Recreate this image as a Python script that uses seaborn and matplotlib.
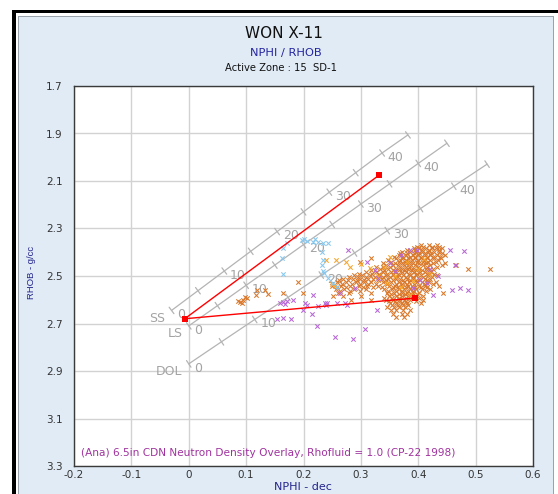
import matplotlib
matplotlib.use("Agg")
import numpy as np
import pandas as pd
import matplotlib.pyplot as plt
import seaborn as sns
from matplotlib.patches import Rectangle

# ---------------- data ----------------
x_ticks = [-0.2, -0.1, 0.0, 0.1, 0.2, 0.3, 0.4, 0.5, 0.6]
x_tick_labels = ["-0.2", "-0.1", "0", "0.1", "0.2", "0.3", "0.4", "0.5", "0.6"]
y_ticks = [1.7, 1.9, 2.1, 2.3, 2.5, 2.7, 2.9, 3.1, 3.3]
y_tick_labels = ["1.7", "1.9", "2.1", "2.3", "2.5", "2.7", "2.9", "3.1", "3.3"]

porosity_pu = [0, 5, 10, 15, 20, 25, 30, 35, 40, 45]
ss_nphi = [-0.030, 0.016, 0.062, 0.108, 0.154, 0.200, 0.245, 0.291, 0.337, 0.382]
ss_rhob = [2.645, 2.562, 2.479, 2.396, 2.313, 2.230, 2.147, 2.065, 1.982, 1.906]
ls_nphi = [0.000, 0.050, 0.100, 0.150, 0.200, 0.250, 0.300, 0.350, 0.400, 0.450]
ls_rhob = [2.710, 2.625, 2.539, 2.454, 2.368, 2.283, 2.197, 2.112, 2.026, 1.941]
dol_nphi = [0.000, 0.057, 0.115, 0.173, 0.231, 0.289, 0.346, 0.404, 0.462, 0.520]
dol_rhob = [2.870, 2.777, 2.683, 2.590, 2.496, 2.403, 2.309, 2.216, 2.122, 2.029]
labelled_pu = [0, 10, 20, 30, 40]

# triangle picks (matrix / fluid / shale points)
red_nphi = [0.332, -0.007, 0.394]
red_rhob = [2.075, 2.680, 2.593]

# main dark-orange cloud, listed by density row
orange_rows = [2.368, 2.383, 2.397, 2.411, 2.426, 2.440, 2.455, 2.469, 2.483,
               2.497, 2.511, 2.526, 2.541, 2.555, 2.570, 2.585, 2.600, 2.614,
               2.629, 2.645, 2.660, 2.672]
orange_row_nphi = [
    [0.405, 0.418, 0.433],
    [0.392, 0.401, 0.414, 0.424, 0.431, 0.441],
    [0.372, 0.386, 0.396, 0.407, 0.417, 0.428, 0.437],
    [0.366, 0.379, 0.391, 0.399, 0.411, 0.421, 0.432, 0.446],
    [0.318, 0.361, 0.373, 0.383, 0.394, 0.404, 0.416, 0.427, 0.439],
    [0.298, 0.352, 0.366, 0.377, 0.386, 0.397, 0.408, 0.417, 0.431],
    [0.343, 0.356, 0.364, 0.376, 0.388, 0.394, 0.409, 0.421, 0.442, 0.466],
    [0.333, 0.348, 0.361, 0.371, 0.382, 0.391, 0.401, 0.413, 0.426, 0.487, 0.525],
    [0.309, 0.326, 0.338, 0.352, 0.359, 0.372, 0.379, 0.392, 0.403, 0.411, 0.423],
    [0.288, 0.302, 0.316, 0.331, 0.343, 0.356, 0.366, 0.374, 0.386, 0.396, 0.404, 0.417, 0.432],
    [0.268, 0.287, 0.299, 0.312, 0.322, 0.336, 0.348, 0.361, 0.369, 0.381, 0.391, 0.402, 0.412, 0.421],
    [0.259, 0.274, 0.292, 0.306, 0.318, 0.339, 0.353, 0.366, 0.376, 0.384, 0.397, 0.406, 0.418, 0.431],
    [0.249, 0.266, 0.281, 0.296, 0.311, 0.329, 0.349, 0.359, 0.371, 0.382, 0.389, 0.401, 0.412, 0.436],
    [0.256, 0.271, 0.288, 0.309, 0.341, 0.354, 0.367, 0.376, 0.386, 0.396, 0.407, 0.421],
    [0.261, 0.279, 0.318, 0.346, 0.358, 0.371, 0.381, 0.391, 0.402, 0.443],
    [0.252, 0.268, 0.300, 0.349, 0.361, 0.372, 0.383, 0.394, 0.409],
    [0.283, 0.317, 0.344, 0.356, 0.366, 0.376, 0.386, 0.408],
    [0.351, 0.362, 0.371, 0.381, 0.404],
    [0.346, 0.357, 0.366, 0.377],
    [0.352, 0.361, 0.374, 0.386],
    [0.356, 0.371, 0.381],
    [0.362, 0.376],
]
# in-between rows of the same cloud (denser core)
orange_rows_b = [2.376, 2.390, 2.404, 2.418, 2.433, 2.447, 2.462, 2.476, 2.490,
                 2.504, 2.518, 2.533, 2.548, 2.562, 2.577, 2.592, 2.607, 2.622]
orange_row_nphi_b = [
    [0.398, 0.409, 0.424, 0.437],
    [0.381, 0.395, 0.407, 0.419, 0.436],
    [0.368, 0.381, 0.392, 0.402, 0.412, 0.423, 0.441],
    [0.357, 0.372, 0.385, 0.395, 0.405, 0.415, 0.426, 0.438],
    [0.347, 0.368, 0.379, 0.389, 0.399, 0.410, 0.421, 0.434],
    [0.338, 0.359, 0.371, 0.381, 0.391, 0.402, 0.413, 0.425, 0.447],
    [0.326, 0.338, 0.351, 0.368, 0.379, 0.384, 0.399, 0.415, 0.432],
    [0.318, 0.341, 0.356, 0.366, 0.377, 0.387, 0.396, 0.407, 0.419],
    [0.296, 0.319, 0.332, 0.345, 0.364, 0.384, 0.398, 0.416, 0.427],
    [0.279, 0.295, 0.309, 0.324, 0.338, 0.351, 0.362, 0.379, 0.391, 0.409, 0.424],
    [0.262, 0.278, 0.293, 0.306, 0.329, 0.343, 0.356, 0.373, 0.386, 0.396, 0.416],
    [0.267, 0.284, 0.299, 0.313, 0.326, 0.346, 0.361, 0.371, 0.381, 0.392, 0.411, 0.425],
    [0.258, 0.274, 0.303, 0.321, 0.336, 0.356, 0.364, 0.379, 0.394, 0.404, 0.416],
    [0.264, 0.281, 0.298, 0.348, 0.361, 0.372, 0.382, 0.391, 0.413],
    [0.353, 0.366, 0.377, 0.387, 0.398],
    [0.341, 0.354, 0.367, 0.378, 0.389, 0.401],
    [0.349, 0.359, 0.369, 0.379, 0.396],
    [0.354, 0.364, 0.373, 0.383],
]
# scattered dark-orange points on the low-porosity side
orange_left_nphi = [0.190, 0.164, 0.199, 0.138, 0.133, 0.117, 0.101, 0.089, 0.092, 0.085, 0.095, 0.119, 0.098]
orange_left_rhob = [2.525, 2.570, 2.570, 2.575, 2.560, 2.580, 2.593, 2.610, 2.614, 2.605, 2.603, 2.560, 2.590]

light_orange_nphi = [0.239, 0.257, 0.274, 0.250, 0.300, 0.316, 0.281, 0.340, 0.360, 0.380,
                     0.400, 0.345, 0.420, 0.385, 0.350, 0.390, 0.370, 0.410, 0.330, 0.255]
light_orange_rhob = [2.433, 2.433, 2.440, 2.534, 2.450, 2.466, 2.462, 2.460, 2.500, 2.440,
                     2.470, 2.530, 2.490, 2.580, 2.420, 2.520, 2.545, 2.430, 2.500, 2.540]

purple_nphi = [0.154, 0.164, 0.178, 0.159, 0.164, 0.171, 0.182, 0.206, 0.225, 0.240,
               0.199, 0.215, 0.223, 0.255, 0.286, 0.307, 0.241, 0.272, 0.263, 0.216,
               0.277, 0.310, 0.325, 0.350, 0.386, 0.398, 0.455, 0.480, 0.464, 0.435,
               0.473, 0.487, 0.459, 0.426, 0.403, 0.420, 0.370, 0.330, 0.290, 0.390,
               0.415, 0.360, 0.237, 0.258, 0.276, 0.328, 0.168, 0.202]
purple_rhob = [2.680, 2.675, 2.680, 2.614, 2.610, 2.607, 2.600, 2.620, 2.625, 2.620,
               2.643, 2.660, 2.710, 2.757, 2.765, 2.723, 2.614, 2.614, 2.570, 2.580,
               2.390, 2.440, 2.475, 2.445, 2.390, 2.390, 2.390, 2.395, 2.455, 2.500,
               2.550, 2.560, 2.560, 2.580, 2.517, 2.470, 2.410, 2.510, 2.550, 2.550,
               2.530, 2.480, 2.614, 2.614, 2.620, 2.643, 2.616, 2.614]

blue_nphi = [0.197, 0.206, 0.216, 0.225, 0.234, 0.243, 0.171, 0.164, 0.162, 0.164,
             0.232, 0.234, 0.232, 0.234, 0.236, 0.243, 0.251, 0.258, 0.200, 0.220]
blue_rhob = [2.348, 2.352, 2.357, 2.358, 2.360, 2.361, 2.361, 2.382, 2.424, 2.492,
             2.399, 2.433, 2.454, 2.479, 2.487, 2.508, 2.530, 2.546, 2.343, 2.345]

# ---------------- build tables ----------------
o_n, o_r = [], []
for rows, vals in ((orange_rows, orange_row_nphi), (orange_rows_b, orange_row_nphi_b)):
    for rho, row in zip(rows, vals):
        o_n += row
        o_r += [rho] * len(row)
o_n += orange_left_nphi
o_r += orange_left_rhob

frames = [
    pd.DataFrame({"nphi": o_n, "rhob": o_r, "grp": "orange"}),
    pd.DataFrame({"nphi": light_orange_nphi, "rhob": light_orange_rhob, "grp": "lorange"}),
    pd.DataFrame({"nphi": purple_nphi, "rhob": purple_rhob, "grp": "purple"}),
    pd.DataFrame({"nphi": blue_nphi, "rhob": blue_rhob, "grp": "blue"}),
]
colors = {"orange": "#d9782a", "lorange": "#f7a428", "purple": "#b767d6", "blue": "#87c8f0"}

# ---------------- figure ----------------
W, H = 558, 494
sns.set_theme(style="white")
plt.rcParams["font.family"] = ["DejaVu Sans"]
fig = plt.figure(figsize=(W / 100, H / 100), dpi=100)
fig.patch.set_facecolor("white")

def fr(x0, y0, x1, y1, **kw):
    fig.patches.append(Rectangle((x0 / W, 1 - y1 / H), (x1 - x0) / W, (y1 - y0) / H,
                                 transform=fig.transFigure, figure=fig, zorder=-5, **kw))

fr(19, 17, 553, 494, facecolor="#e0ebf6", edgecolor="none")
fr(18, 16, 19, 494, facecolor="#9aa3ab", edgecolor="none")
fr(18, 16, 553, 17, facecolor="#9aa3ab", edgecolor="none")
fr(553, 16, 554, 494, facecolor="#9aa3ab", edgecolor="none")
fr(12, 10, 16, 494, facecolor="black", edgecolor="none")
fr(12, 10, 558, 13, facecolor="black", edgecolor="none")

ax_l, ax_r, ax_t, ax_b = 74, 533, 86, 466
ax = fig.add_axes([ax_l / W, 1 - ax_b / H, (ax_r - ax_l) / W, (ax_b - ax_t) / H])
ax.set_zorder(2)
ax.set_facecolor("white")
ax.set_xlim(-0.2, 0.6)
ax.set_ylim(3.3, 1.7)
ax.set_xticks(x_ticks)
ax.set_xticklabels(x_tick_labels)
ax.set_yticks(y_ticks)
ax.set_yticklabels(y_tick_labels)
ax.tick_params(axis="both", length=0, labelsize=7.5, colors="#333333")
ax.tick_params(axis="y", pad=8)
ax.tick_params(axis="x", pad=3)
ax.grid(True, color="#d2d2d2", linewidth=1.0)
ax.set_axisbelow(True)
for s in ax.spines.values():
    s.set_color("#3a3a3a")
    s.set_linewidth(1.0)

# lithology lines
lith_col = "#b4b4b4"
lith = [("SS", ss_nphi, ss_rhob), ("LS", ls_nphi, ls_rhob), ("DOL", dol_nphi, dol_rhob)]
for name, xs, ys in lith:
    sns.lineplot(x=xs, y=ys, ax=ax, color=lith_col, linewidth=0.9, sort=False,
                 estimator=None, legend=False)
ax.set_xlim(-0.2, 0.6)
ax.set_ylim(3.3, 1.7)
fig.canvas.draw()
tr = ax.transData
inv = tr.inverted()
for name, xs, ys in lith:
    pts = tr.transform(np.column_stack([xs, ys]))
    d = pts[-1] - pts[0]
    d = d / np.hypot(*d)
    n = np.array([-d[1], d[0]])
    half = 4.0
    for p, pu in zip(pts, porosity_pu):
        seg = inv.transform(np.vstack([p - half * n, p + half * n]))
        ax.plot(seg[:, 0], seg[:, 1], color=lith_col, linewidth=0.9)
        if pu in labelled_pu:
            i = porosity_pu.index(pu)
            ax.annotate(str(pu), (xs[i], ys[i]),
                        xytext=(4.0, -3.0), textcoords="offset points",
                        ha="left", va="center", fontsize=9, color="#a3a3a3")
    ax.annotate(name, (xs[0], ys[0]), xytext=(-4.5, -5.5), textcoords="offset points",
                ha="right", va="center", fontsize=9, color="#a3a3a3")

# scatter
for df in frames:
    g = df["grp"].iloc[0]
    sns.scatterplot(data=df, x="nphi", y="rhob", ax=ax, marker="x", s=10,
                    color=colors[g], linewidth=0.75, legend=False, zorder=3)

# red triangle lines
sns.lineplot(x=red_nphi, y=red_rhob, ax=ax, color="#ff0000", linewidth=1.0, sort=False,
             estimator=None, legend=False, zorder=4)
ax.scatter(red_nphi, red_rhob, marker="s", s=22, color="#ff0000", zorder=5, linewidths=0)
ax.set_xlabel("")
ax.set_ylabel("")
ax.set_xlim(-0.2, 0.6)
ax.set_ylim(3.3, 1.7)

ax.text(0.015, 0.022, "(Ana) 6.5in CDN Neutron Density Overlay, Rhofluid = 1.0 (CP-22 1998)",
        transform=ax.transAxes, fontsize=7.6, color="#a0339f", ha="left", va="bottom")

# titles & axis labels
fig.text(284 / W, 1 - 34 / H, "WON X-11", ha="center", va="center", fontsize=11, color="#111111")
fig.text(286 / W, 1 - 53 / H, "NPHI / RHOB", ha="center", va="center", fontsize=8.2, color="#2424a0")
fig.text(281 / W, 1 - 68 / H, "Active Zone : 15  SD-1", ha="center", va="center", fontsize=7.2, color="#111111")
fig.text(303 / W, 1 - 487 / H, "NPHI - dec", ha="center", va="center", fontsize=8, color="#24248c")
fig.text(32 / W, 1 - 272 / H, "RHOB - g/cc", ha="center", va="center", rotation=90,
         fontsize=6.8, color="#24248c", family=["Liberation Sans", "DejaVu Sans"])

fig.savefig("out.png", dpi=100)
